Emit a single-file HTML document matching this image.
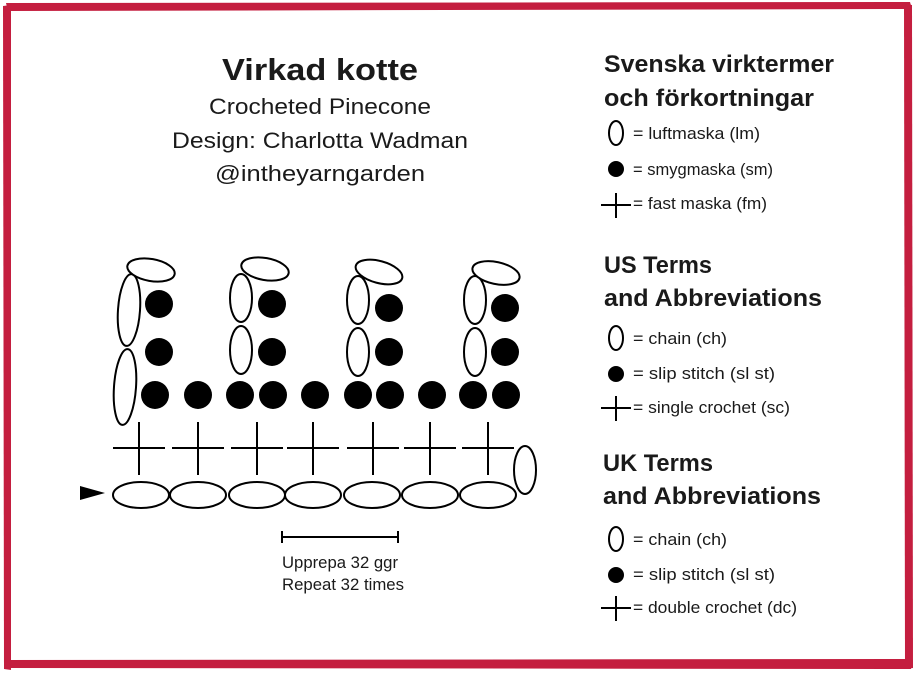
<!DOCTYPE html>
<html><head><meta charset="utf-8"><style>
html,body{margin:0;padding:0;background:#fff;}
svg{display:block;}
text{font-family:"Liberation Sans",sans-serif;fill:#1a1a1a;}
</style></head><body>
<svg width="915" height="674" viewBox="0 0 915 674" xmlns="http://www.w3.org/2000/svg">
<rect x="0" y="0" width="915" height="674" fill="#fff"/>
<g fill="#c41e3f">
<polygon points="6,3 910,2 912,9 8,11"/>
<polygon points="3,6 11,5 11,670 4,669"/>
<polygon points="904,4 912,5 913,668 905,669"/>
<polygon points="4,660 912,659 911,669 5,668"/>
</g>
<g text-anchor="middle">
<text x="320" y="80" font-size="31" font-weight="bold" textLength="196" lengthAdjust="spacingAndGlyphs">Virkad kotte</text>
<text x="320" y="114" font-size="22" textLength="222" lengthAdjust="spacingAndGlyphs">Crocheted Pinecone</text>
<text x="320" y="148" font-size="22" textLength="296" lengthAdjust="spacingAndGlyphs">Design: Charlotta Wadman</text>
<text x="320" y="181" font-size="22" textLength="210" lengthAdjust="spacingAndGlyphs">@intheyarngarden</text>
</g>
<g font-weight="bold" font-size="24">
<text x="604" y="72" textLength="230" lengthAdjust="spacingAndGlyphs">Svenska virktermer</text>
<text x="604" y="106" textLength="210" lengthAdjust="spacingAndGlyphs">och förkortningar</text>
<text x="604" y="273" textLength="108" lengthAdjust="spacingAndGlyphs">US Terms</text>
<text x="604" y="306" textLength="218" lengthAdjust="spacingAndGlyphs">and Abbreviations</text>
<text x="603" y="471" textLength="110" lengthAdjust="spacingAndGlyphs">UK Terms</text>
<text x="603" y="504" textLength="218" lengthAdjust="spacingAndGlyphs">and Abbreviations</text>
</g>
<g font-size="17">
<text x="633" y="139" textLength="127" lengthAdjust="spacingAndGlyphs">= luftmaska (lm)</text>
<text x="633" y="175" textLength="140" lengthAdjust="spacingAndGlyphs">= smygmaska (sm)</text>
<text x="633" y="209" textLength="134" lengthAdjust="spacingAndGlyphs">= fast maska (fm)</text>
<text x="633" y="344" textLength="94" lengthAdjust="spacingAndGlyphs">= chain (ch)</text>
<text x="633" y="379" textLength="142" lengthAdjust="spacingAndGlyphs">= slip stitch (sl st)</text>
<text x="633" y="413" textLength="157" lengthAdjust="spacingAndGlyphs">= single crochet (sc)</text>
<text x="633" y="545" textLength="94" lengthAdjust="spacingAndGlyphs">= chain (ch)</text>
<text x="633" y="580" textLength="142" lengthAdjust="spacingAndGlyphs">= slip stitch (sl st)</text>
<text x="633" y="613" textLength="164" lengthAdjust="spacingAndGlyphs">= double crochet (dc)</text>
<text x="282" y="568" textLength="116" lengthAdjust="spacingAndGlyphs">Upprepa 32 ggr</text>
<text x="282" y="590" textLength="122" lengthAdjust="spacingAndGlyphs">Repeat 32 times</text>
</g>
<g stroke="#000" stroke-width="2" fill="none">
<ellipse cx="616" cy="133" rx="7" ry="12"/>
<ellipse cx="616" cy="338" rx="7" ry="12"/>
<ellipse cx="616" cy="539" rx="7" ry="12"/>
<path d="M601 205H631M616 193V218"/>
<path d="M601 408H631M616 396V421"/>
<path d="M601 608H631M616 596V621"/>
<path d="M282 537H398M282 531V543M398 531V543"/>
</g>
<g fill="#000">
<circle cx="616" cy="169" r="8"/>
<circle cx="616" cy="374" r="8"/>
<circle cx="616" cy="575" r="8"/>
<polygon points="80,486 105,493 80,500"/>
</g>
<g fill="#000">
<circle cx="155" cy="395" r="14"/><circle cx="198" cy="395" r="14"/><circle cx="240" cy="395" r="14"/><circle cx="273" cy="395" r="14"/><circle cx="315" cy="395" r="14"/><circle cx="358" cy="395" r="14"/><circle cx="390" cy="395" r="14"/><circle cx="432" cy="395" r="14"/><circle cx="473" cy="395" r="14"/><circle cx="506" cy="395" r="14"/>
<circle cx="159" cy="352" r="14"/><circle cx="272" cy="352" r="14"/><circle cx="389" cy="352" r="14"/><circle cx="505" cy="352" r="14"/>
<circle cx="159" cy="304" r="14"/><circle cx="272" cy="304" r="14"/><circle cx="389" cy="308" r="14"/><circle cx="505" cy="308" r="14"/>
</g>
<g stroke="#000" stroke-width="2" fill="#fff">
<ellipse cx="129" cy="310" rx="11" ry="36" transform="rotate(4 129 310)"/>
<ellipse cx="125" cy="387" rx="11" ry="38" transform="rotate(4 125 387)"/>
<ellipse cx="151" cy="270" rx="24" ry="11" transform="rotate(10 151 270)"/>
<ellipse cx="241" cy="298" rx="11" ry="24"/>
<ellipse cx="241" cy="350" rx="11" ry="24"/>
<ellipse cx="265" cy="269" rx="24" ry="11" transform="rotate(10 265 269)"/>
<ellipse cx="358" cy="300" rx="11" ry="24"/>
<ellipse cx="358" cy="352" rx="11" ry="24"/>
<ellipse cx="379" cy="272" rx="24" ry="11" transform="rotate(15 379 272)"/>
<ellipse cx="475" cy="300" rx="11" ry="24"/>
<ellipse cx="475" cy="352" rx="11" ry="24"/>
<ellipse cx="496" cy="273" rx="24" ry="11" transform="rotate(12 496 273)"/>
<ellipse cx="141" cy="495" rx="28" ry="13"/><ellipse cx="198" cy="495" rx="28" ry="13"/><ellipse cx="257" cy="495" rx="28" ry="13"/><ellipse cx="313" cy="495" rx="28" ry="13"/><ellipse cx="372" cy="495" rx="28" ry="13"/><ellipse cx="430" cy="495" rx="28" ry="13"/><ellipse cx="488" cy="495" rx="28" ry="13"/>
<ellipse cx="525" cy="470" rx="11" ry="24"/>
</g>
<g stroke="#000" stroke-width="2">
<path d="M113 448H165M139 422V475"/>
<path d="M172 448H224M198 422V475"/>
<path d="M231 448H283M257 422V475"/>
<path d="M287 448H339M313 422V475"/>
<path d="M347 448H399M373 422V475"/>
<path d="M404 448H456M430 422V475"/>
<path d="M462 448H514M488 422V475"/>
</g>
</svg>
</body></html>
